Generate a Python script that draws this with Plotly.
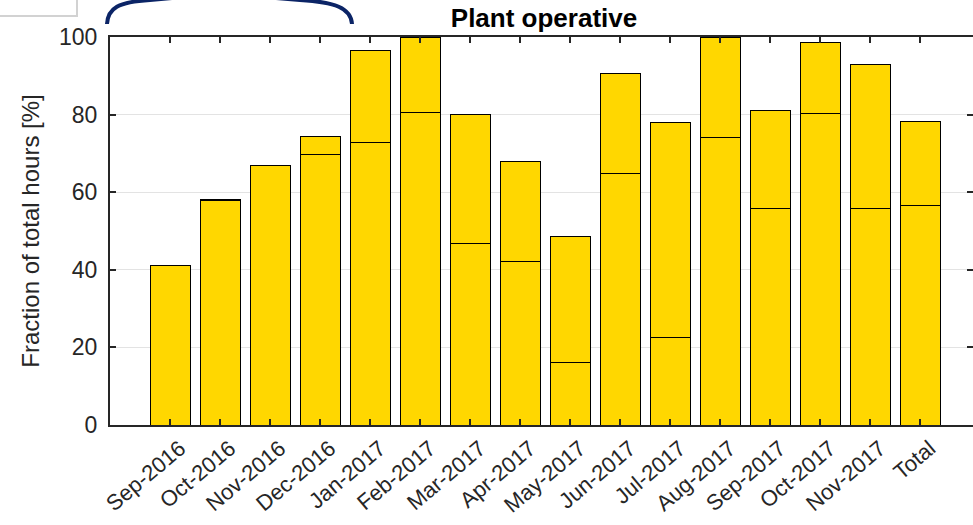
import plotly.graph_objects as go

# Monthly share of hours the plant was operative, split into two stacked parts
months = ["Sep-2016", "Oct-2016", "Nov-2016", "Dec-2016", "Jan-2017", "Feb-2017",
          "Mar-2017", "Apr-2017", "May-2017", "Jun-2017", "Jul-2017", "Aug-2017",
          "Sep-2017", "Oct-2017", "Nov-2017", "Total"]
lower_part = [41.0, 57.8, 66.8, 69.8, 72.9, 80.6, 46.8, 42.2, 16.2, 64.9,
              22.6, 74.1, 55.7, 80.2, 55.9, 56.6]
upper_part = [0.0, 0.2, 0.0, 4.6, 23.6, 19.4, 33.1, 25.7, 32.3, 25.7,
              55.4, 25.9, 25.4, 18.3, 37.1, 21.7]
y_ticks = [0, 20, 40, 60, 80, 100]

W, H = 973, 525
ML, MR, MT, MB = 110, 0, 37, 100
PW, PH = W - ML - MR, H - MT - MB

BAR_FILL = "#FFD700"
INK = "#262626"
FONT = "Liberation Sans, Arial, Helvetica, sans-serif"


def px(x):
    return (x - ML) / PW


def py(y):
    return (H - MB - y) / PH


fig = go.Figure()
for part in (lower_part, upper_part):
    fig.add_trace(go.Bar(
        x=months, y=part, width=0.8,
        marker=dict(color=BAR_FILL, line=dict(color="#000000", width=1)),
        showlegend=False, hoverinfo="skip",
    ))

axis_common = dict(
    showline=True, linecolor=INK, linewidth=2,
    ticks="inside", ticklen=6, tickwidth=2, tickcolor=INK,
    mirror="ticks",
)

fig.update_layout(
    width=W, height=H,
    margin=dict(l=ML, r=MR, t=MT, b=MB, autoexpand=False),
    paper_bgcolor="white", plot_bgcolor="white",
    barmode="stack", bargap=0.2,
    title=dict(text="<b>Plant operative</b>", x=px(544), xref="paper",
               xanchor="center", y=1 - 18 / H, yanchor="middle",
               font=dict(family=FONT, size=26, color="#000000")),
    xaxis=dict(range=[-1.2, 16.06], tickangle=-40, showgrid=False,
               ticklabelshift=10, ticklabelstandoff=0,
               tickfont=dict(family=FONT, size=22, color=INK), **axis_common),
    yaxis=dict(range=[0, 100], tickvals=y_ticks, showgrid=True, gridcolor="#e3e3e3",
               gridwidth=1, zeroline=False, ticklabelstandoff=6,
               tickfont=dict(family=FONT, size=23, color=INK),
               title=dict(text="Fraction of total hours [%]", standoff=13,
                          font=dict(family=FONT, size=24, color=INK)),
               **axis_common),
)

# Navy bracket arc peeking in at the top left
arc = [(107, 24), (108, 8), (118, 2), (150, 0), (205, -5), (240, -5), (300, 0),
       (335, 2), (351, 8), (352, 24)]
p = [(px(a), py(b)) for a, b in arc]
path = (f"M {p[0][0]},{p[0][1]} C {p[1][0]},{p[1][1]} {p[2][0]},{p[2][1]} {p[3][0]},{p[3][1]} "
        f"L {p[4][0]},{p[4][1]} L {p[5][0]},{p[5][1]} L {p[6][0]},{p[6][1]} "
        f"C {p[7][0]},{p[7][1]} {p[8][0]},{p[8][1]} {p[9][0]},{p[9][1]}")
fig.add_shape(type="path", path=path, xref="paper", yref="paper",
              line=dict(color="#0b2466", width=4), layer="above")

# Small framed box in the top-left corner
fig.add_shape(type="rect", xref="paper", yref="paper",
              x0=px(-3), x1=px(77), y0=py(16), y1=py(-3),
              fillcolor="white", line=dict(color="#d2d2d2", width=2), layer="above")

fig.write_html("out.html")
